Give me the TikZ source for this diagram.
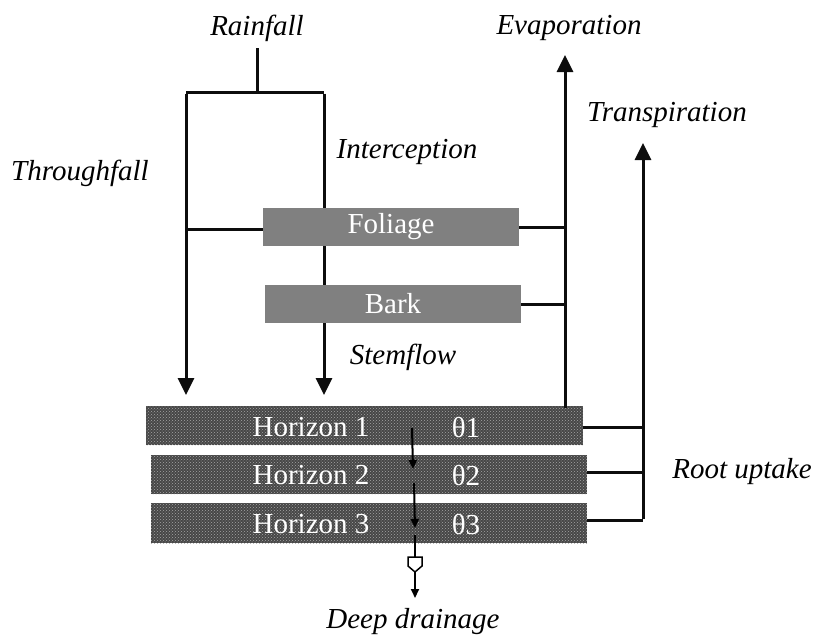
\documentclass[tikz,border=0pt]{standalone}
\usepackage{fontspec}
\setmainfont{Liberation Serif}
\usetikzlibrary{arrows.meta,patterns}
\begin{document}
\begin{tikzpicture}[x=1pt,y=-1pt,
  lbl/.style={font=\fontsize{29}{33}\selectfont\itshape, inner sep=0pt, anchor=center},
  wtxt/.style={font=\fontsize{29}{33}\selectfont, text=white, inner sep=0pt},
  canopy/.style={fill=black!50, minimum width=256pt, minimum height=38pt, inner sep=0pt},
  horizon/.style={preaction={fill=black!72}, pattern=crosshatch dots, pattern color=black!35, minimum width=437pt, minimum height=39pt, inner sep=0pt},
  ln/.style={line width=3pt, draw=black!95},
  arr/.style={ln, -{Triangle[length=17pt,width=16pt]}},
  sarr/.style={line width=2pt, -{Triangle[length=9pt,width=8pt]}}
]
\useasboundingbox (0,0) rectangle (817,635);
% boxes
\node[canopy] (fol) at (391,227) {};
\node[wtxt] (foltxt) at (391,227) {Foliage};
\node[canopy] (bark) at (393,304) {};
\node[wtxt] (barktxt) at (393,304) {Bark};
\node[horizon] (h1) at (364.5,425.5) {};
\node[horizon, minimum width=436pt] (h2) at (369,474.5) {};
\node[horizon, minimum width=436pt, minimum height=40pt] (h3) at (369,523) {};
\node[wtxt] (h1t) at (311,427) {Horizon 1};
\node[wtxt] (h2t) at (311,475) {Horizon 2};
\node[wtxt] (h3t) at (311,524) {Horizon 3};
\node[wtxt] (t1) at (466,427) {θ1};
\node[wtxt] (t2) at (466,475) {θ2};
\node[wtxt] (t3) at (466,524) {θ3};
% labels
\node[lbl] (rain) at (257,28) {Rainfall};
\node[lbl] (evap) at (569,28) {Evaporation};
\node[lbl] (transp) at (667,115) {Transpiration};
\node[lbl] (interc) at (407,152) {Interception};
\node[lbl] (through) at (80,173) {Throughfall};
\node[lbl] (stem) at (403,357) {Stemflow};
\node[lbl] (root) at (742,472) {Root uptake};
\node[lbl] (deep) at (413,622) {Deep drainage};
% coordinates
\coordinate (r0) at (257,48);
\coordinate (r1) at (257,92);
\coordinate (tl) at (186,92);
\coordinate (tr) at (324,92);
\coordinate (al) at (186,395);
\coordinate (ar) at (324,395);
\coordinate (fl) at (186,229);
\coordinate (ev0) at (565,408);
\coordinate (ev1) at (565,55);
\coordinate (tp0) at (643,520);
\coordinate (tp1) at (643,143);
% rainfall split
\draw[ln] (r0) -- (r1);
\draw[ln] (tl) -- (tr);
\draw[arr] ([yshift=-1.5pt]tl) -- (al);
\draw[ln] ([yshift=-1.5pt]tr) -- (tr |- fol.north);
\draw[ln] (fol.south -| tr) -- (bark.north -| tr);
\draw[arr] (bark.south -| tr) -- (ar);
\draw[ln] (fl) -- (fol.west |- fl);
% evaporation
\draw[ln] (fol.east) -- (fol.east -| ev0);
\draw[ln] (bark.east) -- (bark.east -| ev0);
\draw[arr] (ev0) -- (ev1);
% transpiration
\draw[arr] ([yshift=1.5pt]tp0) -- (tp1);
\draw[ln] (h1.east |- 0,427) -- (tp0 |- 0,427);
\draw[ln] (h2.east |- 0,472) -- (tp0 |- 0,472);
\draw[ln] (h3.east |- tp0) -- (tp0);
% drainage
\coordinate (d1a) at (412,428);
\coordinate (d1b) at (413,469);
\coordinate (d2a) at (414,483);
\coordinate (d2b) at (415,528);
\coordinate (d3a) at (415,535);
\coordinate (v) at (415,557);
\coordinate (v2) at (415,572);
\coordinate (d4) at (415,598);
\draw[sarr] (d1a) -- (d1b);
\draw[sarr] (d2a) -- (d2b);
\draw[line width=2pt] (d3a) -- (v);
\draw[line width=1.5pt, fill=white] (408,557) -- (422,557) -- (422,566) -- (v2) -- (408,566) -- cycle;
\draw[sarr] (v2) -- (d4);
\end{tikzpicture}
\end{document}
